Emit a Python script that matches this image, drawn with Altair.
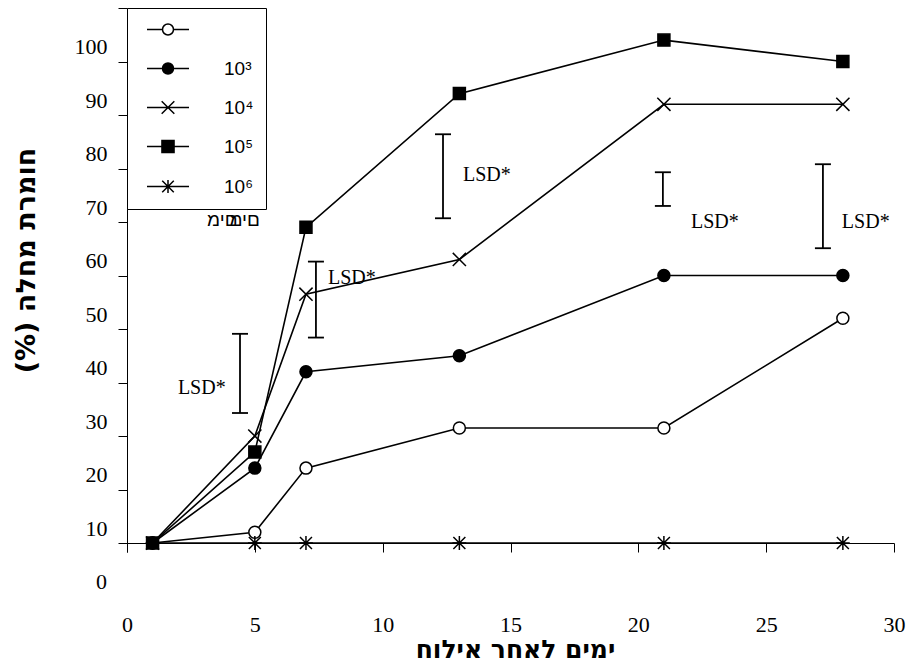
import altair as alt
import pandas as pd

# ---------------- data ----------------
days = [1, 5, 7, 13, 21, 28]
series_keys = ["w", "e3", "e4", "e5", "e6"]
legend_labels = ["", "10³", "10⁴", "10⁵", "10⁶"]
water = [0, 2, 14, 21.5, 21.5, 42]
e3 = [0, 14, 32, 35, 50, 50]
e4 = [0, 20, 46.5, 53, 82, 82]
e5 = [0, 17, 59, 84, 94, 90]
e6 = [0, 0, 0, 0, 0, 0]
values_by_series = [water, e3, e4, e5, e6]

lsd_day = [4.42, 7.39, 12.36, 20.96, 27.22]
lsd_low = [24.3, 38.4, 60.7, 63.0, 55.1]
lsd_high = [39.1, 52.6, 76.4, 69.3, 70.8]
lsd_label_day = [3.86, 7.86, 13.14, 22.06, 27.96]
lsd_label_val = [29.0, 49.5, 68.8, 60.0, 60.0]
lsd_label_align = ["right", "left", "left", "left", "left"]

x_ticks = [0, 5, 10, 15, 20, 25, 30]
y_ticks = [0, 10, 20, 30, 40, 50, 60, 70, 80, 90, 100]
y_tick_labels = ["10", "20", "30", "40", "50", "60", "70", "80", "90", "100", ""]
extra_label_value = [-10]
extra_label_text = ["0"]

# the stray legend caption, drawn twice (overlapping) as in the reference,
# its glyphs shown left-to-right
water_text = "םימ"
water_text_day = [3.13, 5.2]
water_text_val = [60.4, 60.4]

x_title = "ימים לאחר אילוח"
y_title = "\u202Bחומרת מחלה (%)\u202C"

# ---------------- tables ----------------
rows = []
for k, vals in zip(series_keys, values_by_series):
    for d, v in zip(days, vals):
        rows.append({"day": d, "value": v, "series": k})
df = pd.DataFrame(rows)

lsd_df = pd.DataFrame({"day": lsd_day, "low": lsd_low, "high": lsd_high})
lsd_txt = pd.DataFrame({"day": lsd_label_day, "value": lsd_label_val,
                        "align": lsd_label_align, "t": ["LSD*"] * len(lsd_label_day)})
zero_df = pd.DataFrame({"value": extra_label_value, "t": extra_label_text})
water_df = pd.DataFrame({"day": water_text_day, "value": water_text_val,
                         "t": [water_text, water_text]})

SERIF = "Liberation Serif"
SANS = "Liberation Sans"
HEB = "DejaVu Sans"

label_map = "{" + ",".join(f"{v}:'{t}'" for v, t in zip(y_ticks, y_tick_labels)) + "}"

x_scale = alt.Scale(domain=[0, 30], nice=False, zero=False)
y_scale = alt.Scale(domain=[-1.68, 100], nice=False, zero=False)

x_axis = alt.Axis(values=x_ticks, offset=-9, tickSize=9, labelPadding=62, labelFlush=False,
                  labelFont=SERIF, labelFontSize=22, labelColor="black",
                  domainColor="black", tickColor="black", grid=False,
                  title=x_title, titleFont=HEB, titleFontSize=25, titleFontWeight="bold",
                  titleColor="black", titleX=388, titleY=106, titleAlign="center",
                  titleBaseline="middle")
y_axis = alt.Axis(values=y_ticks, tickSize=9, labelPadding=11, labelOffset=-15,
                  labelExpr=label_map + "[datum.value]",
                  labelFont=SERIF, labelFontSize=22, labelColor="black",
                  domainColor="black", tickColor="black", grid=False,
                  title=y_title, titleFont=HEB, titleFontSize=27, titleFontWeight="bold",
                  titleColor="black", titleX=-101, titleY=252, titleAngle=270,
                  titleAlign="center", titleBaseline="middle")


def X(field="day"):
    return alt.X(f"{field}:Q", scale=x_scale, axis=x_axis)


def Y(field="value"):
    return alt.Y(f"{field}:Q", scale=y_scale, axis=y_axis)


point_paths = [
    "M1,0A1,1,0,1,1,-1,0A1,1,0,1,1,1,0Z",
    "M1,0A1,1,0,1,1,-1,0A1,1,0,1,1,1,0Z",
    "M-1.1,-1.1L1.1,1.1M-1.1,1.1L1.1,-1.1",
    "M-1,-1H1V1H-1Z",
    "M0,-1.15V1.15M-1,-1L1,1M-1,1L1,-1M-1.15,0H1.15",
]
L = 3.82
legend_paths = [
    f"M-{L},0H-1M1,0H{L}M1,0A1,1,0,1,1,-1,0A1,1,0,1,1,1,0Z",
    f"M-{L},0H-1M1,0H{L}M1,0A1,1,0,1,1,-1,0A1,1,0,1,1,1,0Z",
    f"M-{L},0H{L}M-1.15,-1.15L1.15,1.15M-1.15,1.15L1.15,-1.15",
    f"M-{L},0H{L}M-1.1,-1.1H1.1V1.1H-1.1Z",
    f"M-{L},0H{L}M0,-1.2V1.2M-1.05,-1.05L1.05,1.05M-1.05,1.05L1.05,-1.05",
]
fills = ["white", "black", "white", "black", "white"]
strokes = ["black"] * 5

pad = "\u00a0" * 9
leg_map = "{" + ",".join(f"'{k}':'{(t + pad) if t else ''}'" for k, t in zip(series_keys, legend_labels)) + "}"

leg = alt.Legend(orient="none", legendX=0, legendY=0, title=None,
                 strokeColor="black", fillColor="white", padding=12,
                 symbolOffset=19.5, labelOffset=46.5, rowPadding=19,
                 symbolSize=121, symbolStrokeWidth=1.5, symbolStrokeColor="black",
                 labelFont=SANS, labelFontSize=19, labelColor="black",
                 labelExpr=leg_map + "[datum.value]")

base = alt.Chart(df)

lines = base.mark_line(color="black", strokeWidth=1.6).encode(
    x=X(), y=Y(), detail="series:N")

points = base.mark_point(filled=True, stroke="black", strokeWidth=1.5, size=144, opacity=1).encode(
    x=X(), y=Y(),
    shape=alt.Shape("series:N", scale=alt.Scale(domain=series_keys, range=point_paths), legend=None),
    fill=alt.Fill("series:N", scale=alt.Scale(domain=series_keys, range=fills), legend=None),
)

legend_layer = base.transform_filter("datum.day < 0").mark_point(
    filled=True, strokeWidth=1.5, size=121, opacity=1).encode(
    x=X(), y=Y(),
    shape=alt.Shape("series:N", scale=alt.Scale(domain=series_keys, range=legend_paths), legend=leg),
    fill=alt.Fill("series:N", scale=alt.Scale(domain=series_keys, range=fills), legend=leg),
    stroke=alt.Stroke("series:N", scale=alt.Scale(domain=series_keys, range=strokes), legend=leg),
)

lsd_base = alt.Chart(lsd_df)
rules = lsd_base.mark_rule(color="black", strokeWidth=1.8).encode(
    x=X(), y=Y("low"), y2="high:Q")
caps_low = lsd_base.mark_tick(orient="horizontal", size=16, thickness=1.8, color="black", opacity=1).encode(
    x=X(), y=Y("low"))
caps_high = lsd_base.mark_tick(orient="horizontal", size=16, thickness=1.8, color="black", opacity=1).encode(
    x=X(), y=Y("high"))

lsd_right = alt.Chart(lsd_txt).transform_filter("datum.align == 'right'").mark_text(
    align="right", baseline="middle", font=SERIF, fontSize=20, color="black").encode(
    x=X(), y=Y(), text="t:N")
lsd_left = alt.Chart(lsd_txt).transform_filter("datum.align == 'left'").mark_text(
    align="left", baseline="middle", font=SERIF, fontSize=20, color="black").encode(
    x=X(), y=Y(), text="t:N")

zero_label = alt.Chart(zero_df).mark_text(
    align="right", baseline="middle", dy=-15, font=SERIF, fontSize=22, color="black").encode(
    x=alt.value(-20), y=Y(), text="t:N")

water_l = alt.Chart(water_df.iloc[[0]]).mark_text(
    align="left", baseline="middle", font=SANS, fontSize=19, color="black").encode(
    x=X(), y=Y(), text="t:N")
water_r = alt.Chart(water_df.iloc[[1]]).mark_text(
    align="right", baseline="middle", font=SANS, fontSize=19, color="black").encode(
    x=X(), y=Y(), text="t:N")

chart = alt.layer(
    lines, points, rules, caps_low, caps_high, lsd_right, lsd_left,
    zero_label, water_l, water_r, legend_layer,
).resolve_scale(shape="independent", fill="independent", stroke="independent").properties(
    width=767, height=544,
    padding={"left": 127, "top": 8, "right": 17, "bottom": 116},
    autosize=alt.AutoSizeParams(type="none"),
    background="white",
).configure_view(stroke=None)

chart.save("out.html", embed_options={"renderer": "svg", "actions": False})
